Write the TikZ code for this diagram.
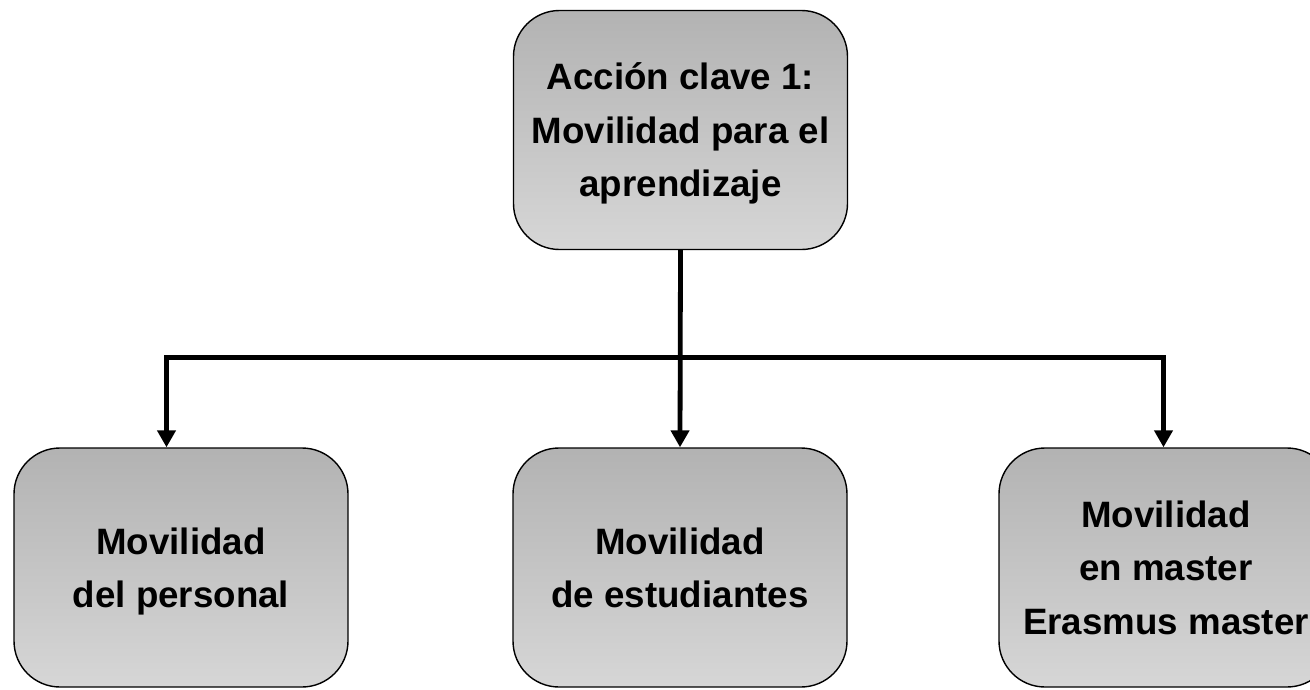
\documentclass[tikz,border=0pt]{standalone}
\usepackage{fontspec}
\setmainfont{Liberation Sans}
\usetikzlibrary{arrows.meta}
\tikzset{
  box/.style={draw=black, line width=1.4pt, rounded corners=46pt,
    top color=black!30, bottom color=black!16,
    minimum width=334pt, minimum height=239pt, align=center,
    font=\bfseries\fontsize{36.7}{53.5}\selectfont, inner sep=0pt,
    text depth=0pt},
  conn/.style={line width=4.8pt, line cap=rect},
  arr/.style={line width=4.8pt, -{Triangle[width=18pt,length=17pt]}},
}
\begin{document}
\begin{tikzpicture}[x=1pt,y=-1pt]
\useasboundingbox (0,0) rectangle (1310,689);
\clip (0,0) rectangle (1310,689);
\node[box] (top) at (680.5,130) {Acción clave 1:\\Movilidad para el\\aprendizaje};
\node[box] (left) at (181,567.5) {Movilidad\\del personal};
\node[box] (mid) at (680,567.5) {Movilidad\\de estudiantes};
\node[box] (right) at (1166,567.5) {Movilidad\\en master\\Erasmus master};
\coordinate (hl) at (166.5,357.5);
\coordinate (hr) at (1163.5,357.5);
\draw[conn] (hl) -- (hr);
\draw[arr] (top.south) -- (mid.north);
\draw[arr] (hl) -- (hl |- left.north);
\draw[arr] (hr) -- (hr |- right.north);
\end{tikzpicture}
\end{document}
